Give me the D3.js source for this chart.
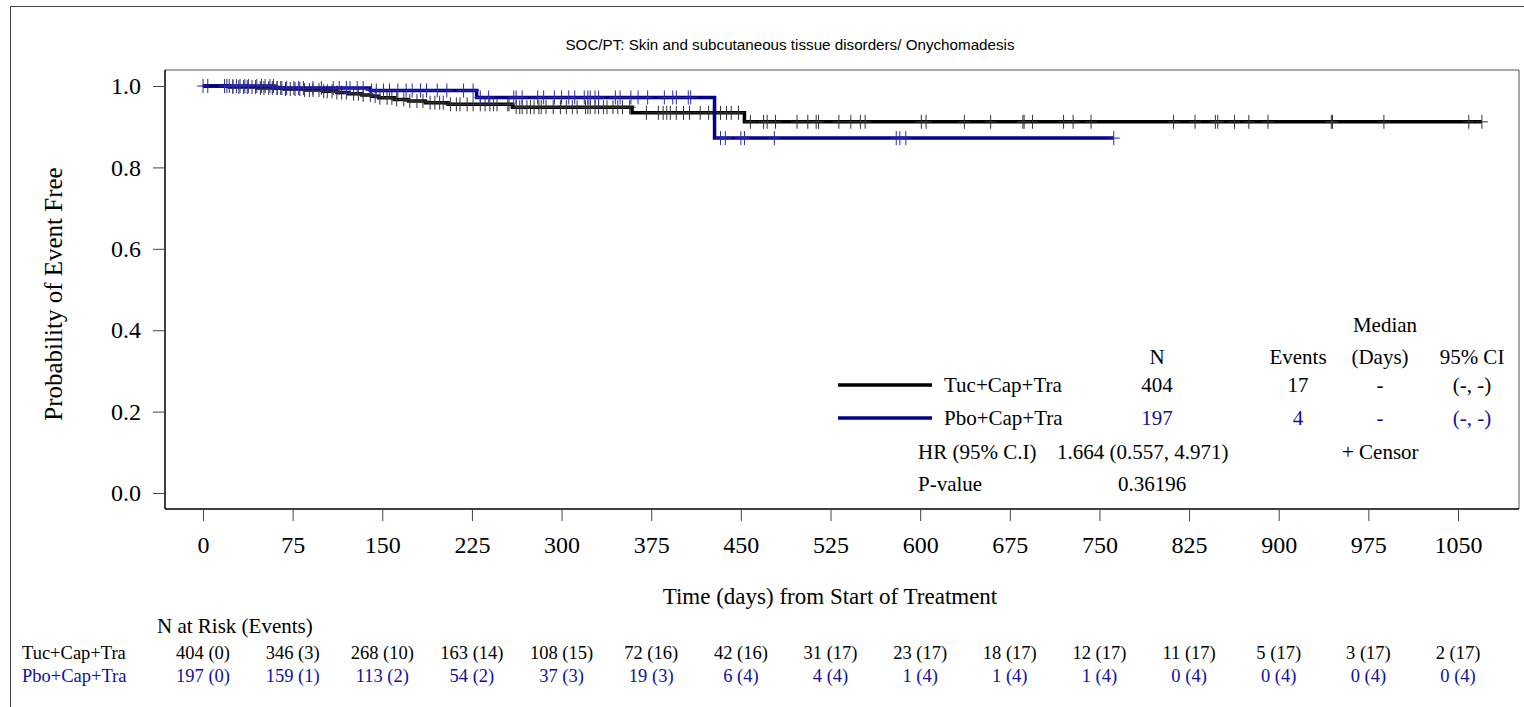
<!DOCTYPE html>
<html>
<head>
<meta charset="utf-8">
<script src="https://cdn.jsdelivr.net/npm/d3@7"></script>
<style>
  body { margin: 0; background: #fff; }
  text { font-family: "Liberation Serif", "Times New Roman", serif; }
</style>
</head>
<body>
<svg id="km" width="1524" height="707"></svg>
<script>
// ---- data ----
let dayTicks = [0, 75, 150, 225, 300, 375, 450, 525, 600, 675, 750, 825, 900, 975, 1050]
let probTicks = [0, 0.2, 0.4, 0.6, 0.8, 1.0]

// Tuc+Cap+Tra : event days and survival after each event
let tucEventDays = [22, 45, 68, 85, 100, 112, 122, 133, 141, 147, 160, 172, 186, 205, 259, 359, 453]
let tucSurv = [0.9975, 0.995, 0.9925, 0.990, 0.987, 0.984, 0.981, 0.978, 0.975, 0.971, 0.967, 0.963, 0.959, 0.955, 0.948, 0.934, 0.912]
let tucCensorDays = [4, 20, 25, 30, 34, 37, 41, 44, 48, 51, 55, 58, 62, 65, 69, 73, 77, 81, 85, 89, 92, 97, 101, 104, 108,
  112, 116, 120, 126, 130, 134, 140, 144, 148, 154, 158, 162, 168, 173, 179, 184, 190, 194, 198, 201, 207, 212, 215, 221,
  226, 232, 236, 240, 243, 246, 255, 256, 262, 265, 267, 271, 274, 277, 281, 283, 287, 293, 299, 304, 309, 313, 320, 322,
  324, 328, 331, 335, 338, 343, 347, 351, 357, 371, 381, 385, 388, 391, 396, 402, 407, 416, 423, 427, 433, 438, 442, 448,
  458, 469, 472, 479, 497, 506, 513, 515, 532, 542, 550, 554, 601, 605, 637, 659, 686, 687, 694, 720, 728, 743,
  812, 830, 847, 849, 863, 875, 891, 944, 945, 988, 1059, 1070]

// Pbo+Cap+Tra
let pboEventDays = [60, 140, 229, 428]
let pboSurv = [0.995, 0.989, 0.972, 0.872]
let pboCensorDays = [0, 18, 22, 25, 28, 31, 35, 38, 45, 49, 52, 56, 59, 62, 66, 70, 76, 80, 84, 92, 99, 109, 114, 120, 123,
  129, 134, 141, 145, 151, 156, 163, 170, 175, 182, 187, 196, 204, 218, 226, 232, 239, 260, 262, 267, 280, 285, 294, 300,
  306, 311, 319, 322, 324, 328, 331, 345, 349, 358, 364, 372, 386, 393, 396, 406, 408,
  433, 437, 450, 453, 478, 580, 583, 588, 762]

let groups = ["Tuc+Cap+Tra", "Pbo+Cap+Tra"]
let groupN = ["404", "197"]
let groupEvents = ["17", "4"]
let groupMedian = ["-", "-"]
let groupCI = ["(-, -)", "(-, -)"]

let atRiskTuc = ["404 (0)", "346 (3)", "268 (10)", "163 (14)", "108 (15)", "72 (16)", "42 (16)", "31 (17)", "23 (17)", "18 (17)", "12 (17)", "11 (17)", "5 (17)", "3 (17)", "2 (17)"]
let atRiskPbo = ["197 (0)", "159 (1)", "113 (2)", "54 (2)", "37 (3)", "19 (3)", "6 (4)", "4 (4)", "1 (4)", "1 (4)", "1 (4)", "0 (4)", "0 (4)", "0 (4)", "0 (4)"]

// ---- drawing ----
var black = "#000000"
var navy = "#00008b"
var navyText = "#10109e"

var svg = d3.select("svg#km")

// outer frame (left + top visible)
svg.append("path")
    .attr("d", "M10.5,707 V6.5 H1524")
    .attr("fill", "none")
    .attr("stroke", "#444")
    .attr("stroke-width", 1)

svg.append("text")
    .attr("x", 790)
    .attr("y", 50)
    .attr("text-anchor", "middle")
    .attr("font-size", "15.2px")
    .style("font-family", "'Liberation Sans', Arial, sans-serif")
    .text("SOC/PT: Skin and subcutaneous tissue disorders/ Onychomadesis")

let xScale = d3.scaleLinear()
    .domain([0, 1050])
    .range([203, 1458])

let yScale = d3.scaleLinear()
    .domain([0, 1])
    .range([493, 86])

var plotL = 165, plotR = 1519, plotT = 70, plotB = 509

// plot box
svg.append("path")
    .attr("d", "M" + plotL + "," + plotT + " H" + plotR + " V" + plotB)
    .attr("fill", "none")
    .attr("stroke", "#555")
    .attr("stroke-width", 1)

// y axis
svg.append("g")
    .attr("transform", "translate(" + plotL + ",0)")
    .call(d3.axisLeft(yScale).tickValues(probTicks).tickFormat(d3.format(".1f")).tickSize(12).tickPadding(12))
    .call(g => g.select(".domain").attr("d", "M0," + plotT + " V" + plotB).attr("stroke-width", 1.5))
    .call(g => g.selectAll(".tick line").attr("stroke", "#444"))
    .call(g => g.selectAll("text").attr("font-size", "24px").attr("fill", "#000")
        .style("font-family", "'Liberation Serif', serif"))

// x axis
svg.append("g")
    .attr("transform", "translate(0," + plotB + ")")
    .call(d3.axisBottom(xScale).tickValues(dayTicks).tickFormat(d3.format("d")).tickSize(12).tickPadding(15))
    .call(g => g.select(".domain").attr("d", "M" + plotL + ",0 H" + plotR).attr("stroke-width", 1.5))
    .call(g => g.selectAll(".tick line").attr("stroke", "#444"))
    .call(g => g.selectAll("text").attr("font-size", "24px").attr("fill", "#000")
        .style("font-family", "'Liberation Serif', serif"))

svg.append("text")
    .attr("transform", "translate(62," + 294 + ") rotate(-90)")
    .attr("text-anchor", "middle")
    .attr("font-size", "25px")
    .text("Probability of Event Free")

svg.append("text")
    .attr("x", 830)
    .attr("y", 604)
    .attr("text-anchor", "middle")
    .attr("font-size", "23px")
    .text("Time (days) from Start of Treatment")

// KM curves
function survAt(days, surv, t) {
    let s = 1
    days.forEach((d, i) => { if (d <= t) s = surv[i] })
    return s
}

let series = [
    {ev: tucEventDays, sv: tucSurv, cen: tucCensorDays, line: black, mark: "#333"},
    {ev: pboEventDays, sv: pboSurv, cen: pboCensorDays, line: navy, mark: "#2b2bb0"}
]

let stepLine = d3.line()
    .x(d => xScale(d[0]))
    .y(d => yScale(d[1]))
    .curve(d3.curveStepAfter)

series.forEach(function(s) {
    let last = d3.max(s.cen.concat(s.ev))
    let pts = [[0, 1]].concat(s.ev.map((d, i) => [d, s.sv[i]]))
    pts.push([last, s.sv[s.sv.length - 1]])
    svg.append("path")
        .datum(pts)
        .attr("d", stepLine)
        .attr("fill", "none")
        .attr("stroke", s.line)
        .attr("stroke-width", 3.5)

    svg.append("g")
        .selectAll("path")
        .data(s.cen)
        .enter()
        .append("path")
            .attr("d", function(d) {
                let cx = xScale(d), cy = yScale(survAt(s.ev, s.sv, d))
                return "M" + (cx - 6) + "," + cy + " H" + (cx + 6) + " M" + cx + "," + (cy - 7) + " V" + (cy + 7)
            })
            .attr("stroke", s.mark)
            .attr("stroke-width", 1)
            .attr("fill", "none")
})

// legend / stats table
var legend = svg.append("g").attr("font-size", "21px")
var rowY = [392, 425]
var colN = 1157, colEv = 1298, colMed = 1380, colCI = 1472

legend.append("text").attr("x", 1385).attr("y", 332).attr("text-anchor", "middle").text("Median")
legend.append("text").attr("x", colN).attr("y", 364).attr("text-anchor", "middle").text("N")
legend.append("text").attr("x", colEv).attr("y", 364).attr("text-anchor", "middle").text("Events")
legend.append("text").attr("x", 1380).attr("y", 364).attr("text-anchor", "middle").text("(Days)")
legend.append("text").attr("x", colCI).attr("y", 364).attr("text-anchor", "middle").text("95% CI")

groups.forEach(function(g, i) {
    let c = i == 0 ? black : navyText
    legend.append("line")
        .attr("x1", 838).attr("x2", 932)
        .attr("y1", rowY[i] - 7).attr("y2", rowY[i] - 7)
        .attr("stroke", i == 0 ? black : navy)
        .attr("stroke-width", 3.5)
    legend.append("text").attr("x", 944).attr("y", rowY[i]).text(g)
    legend.append("text").attr("x", colN).attr("y", rowY[i]).attr("text-anchor", "middle").attr("fill", c).text(groupN[i])
    legend.append("text").attr("x", colEv).attr("y", rowY[i]).attr("text-anchor", "middle").attr("fill", c).text(groupEvents[i])
    legend.append("text").attr("x", colMed).attr("y", rowY[i]).attr("text-anchor", "middle").attr("fill", c).text(groupMedian[i])
    legend.append("text").attr("x", colCI).attr("y", rowY[i]).attr("text-anchor", "middle").attr("fill", c).text(groupCI[i])
})

legend.append("text").attr("x", 918).attr("y", 459).text("HR (95% C.I)")
legend.append("text").attr("x", 1057).attr("y", 459).text("1.664 (0.557, 4.971)")
legend.append("text").attr("x", 1342).attr("y", 459).text("+ Censor")
legend.append("text").attr("x", 918).attr("y", 491).text("P-value")
legend.append("text").attr("x", 1118).attr("y", 491).text("0.36196")

// number at risk
var risk = svg.append("g").attr("font-size", "18.5px")
risk.append("text").attr("x", 157).attr("y", 633).attr("font-size", "21px").text("N at Risk (Events)")
risk.append("text").attr("x", 22).attr("y", 659).text(groups[0])
risk.append("text").attr("x", 22).attr("y", 682).attr("fill", navyText).text(groups[1])

risk.append("g").selectAll("text")
    .data(atRiskTuc)
    .enter()
    .append("text")
        .attr("x", (d, i) => xScale(dayTicks[i]))
        .attr("y", 659)
        .attr("text-anchor", "middle")
        .text(d => d)

risk.append("g").selectAll("text")
    .data(atRiskPbo)
    .enter()
    .append("text")
        .attr("x", (d, i) => xScale(dayTicks[i]))
        .attr("y", 682)
        .attr("text-anchor", "middle")
        .attr("fill", navyText)
        .text(d => d)
</script>
</body>
</html>
